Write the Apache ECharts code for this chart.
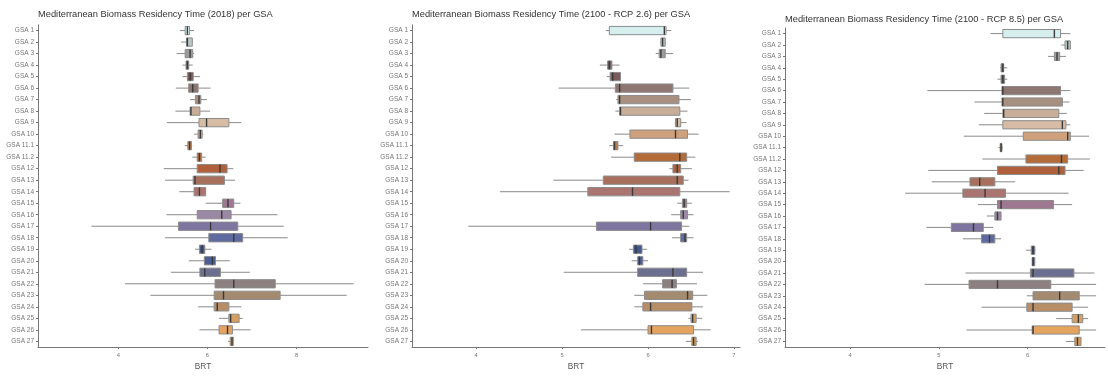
<!DOCTYPE html>
<html>
<head>
<meta charset="utf-8">
<script src="https://cdn.jsdelivr.net/npm/echarts@6/dist/echarts.min.js"></script>
<style>
  html, body { margin: 0; padding: 0; background: #fff; }
  #chart { width: 1108px; height: 376px; }
</style>
</head>
<body>
<div id="chart"></div>
<script>
  var gsa = ['GSA 1', 'GSA 2', 'GSA 3', 'GSA 4', 'GSA 5', 'GSA 6', 'GSA 7', 'GSA 8', 'GSA 9', 'GSA 10',
    'GSA 11.1', 'GSA 11.2', 'GSA 12', 'GSA 13', 'GSA 14', 'GSA 15', 'GSA 16', 'GSA 17', 'GSA 18',
    'GSA 19', 'GSA 20', 'GSA 21', 'GSA 22', 'GSA 23', 'GSA 24', 'GSA 25', 'GSA 26', 'GSA 27'];

  // [min, q1, median, q3, max] per GSA
  var brt2018 = [
    [5.38, 5.50, 5.55, 5.60, 5.70], [5.41, 5.53, 5.55, 5.66, 5.67], [5.31, 5.50, 5.61, 5.67, 5.70],
    [5.44, 5.52, 5.55, 5.58, 5.67], [5.44, 5.55, 5.61, 5.68, 5.83], [5.29, 5.58, 5.67, 5.79, 6.07],
    [5.61, 5.73, 5.81, 5.85, 5.99], [5.28, 5.61, 5.63, 5.83, 6.06], [5.09, 5.81, 5.98, 6.48, 6.76],
    [5.70, 5.79, 5.84, 5.88, 5.91], [5.49, 5.56, 5.60, 5.64, 5.66], [5.66, 5.77, 5.82, 5.87, 5.96],
    [5.02, 5.77, 6.28, 6.44, 6.58], [5.05, 5.68, 5.72, 6.38, 6.62], [5.37, 5.70, 5.82, 5.96, 5.97],
    [5.96, 6.34, 6.46, 6.59, 6.74], [5.08, 5.77, 6.32, 6.53, 7.57], [3.40, 5.35, 6.07, 6.68, 7.71],
    [5.05, 6.03, 6.59, 6.79, 7.80], [5.72, 5.82, 5.88, 5.94, 6.09], [5.58, 5.93, 6.11, 6.18, 6.50],
    [5.18, 5.83, 5.94, 6.29, 6.95], [4.15, 6.17, 6.59, 7.52, 9.28], [4.72, 6.15, 6.36, 7.63, 9.12],
    [5.79, 6.15, 6.22, 6.48, 6.76], [6.26, 6.48, 6.52, 6.71, 6.79], [5.82, 6.26, 6.45, 6.56, 6.97],
    [6.46, 6.51, 6.55, 6.58, 6.59]
  ];
  var brtRcp26 = [
    [5.51, 5.55, 6.19, 6.21, 6.27], [6.14, 6.15, 6.17, 6.20, 6.21], [6.09, 6.13, 6.15, 6.20, 6.29],
    [5.44, 5.53, 5.55, 5.58, 5.67], [5.52, 5.56, 5.59, 5.68, 5.68], [4.96, 5.62, 5.67, 6.29, 6.48],
    [5.63, 5.65, 5.67, 6.36, 6.50], [5.62, 5.67, 5.68, 6.37, 6.46], [6.31, 6.32, 6.34, 6.38, 6.45],
    [5.61, 5.79, 6.32, 6.46, 6.59], [5.55, 5.60, 5.61, 5.65, 5.71], [5.57, 5.84, 6.37, 6.45, 6.55],
    [6.25, 6.29, 6.34, 6.38, 6.51], [4.90, 5.48, 6.34, 6.41, 6.47], [4.28, 5.30, 5.82, 6.37, 6.95],
    [6.34, 6.40, 6.42, 6.45, 6.51], [6.27, 6.38, 6.41, 6.46, 6.53], [3.91, 5.40, 6.03, 6.39, 6.48],
    [6.28, 6.38, 6.43, 6.45, 6.53], [5.78, 5.83, 5.86, 5.93, 5.99], [5.81, 5.88, 5.90, 5.94, 6.00],
    [5.02, 5.88, 6.29, 6.45, 6.64], [5.94, 6.17, 6.28, 6.33, 6.57], [5.84, 5.96, 6.46, 6.52, 6.69],
    [5.84, 5.94, 6.03, 6.51, 6.64], [6.47, 6.50, 6.52, 6.56, 6.63], [5.22, 6.00, 6.04, 6.53, 6.73],
    [6.44, 6.51, 6.53, 6.56, 6.58]
  ];
  var brtRcp85 = [
    [5.58, 5.72, 6.30, 6.37, 6.48], [6.38, 6.42, 6.45, 6.48, 6.48], [6.23, 6.30, 6.33, 6.36, 6.43],
    [5.69, 5.70, 5.72, 5.73, 5.77], [5.66, 5.70, 5.72, 5.74, 5.77], [4.87, 5.71, 5.72, 6.37, 6.48],
    [5.40, 5.71, 5.72, 6.39, 6.47], [5.51, 5.72, 5.73, 6.35, 6.44], [5.45, 5.72, 6.39, 6.43, 6.48],
    [5.28, 5.95, 6.45, 6.48, 6.69], [5.67, 5.69, 5.70, 5.71, 5.72], [5.49, 5.98, 6.38, 6.45, 6.70],
    [4.88, 5.66, 6.35, 6.42, 6.63], [4.92, 5.35, 5.46, 5.63, 5.86], [4.62, 5.27, 5.52, 5.75, 6.46],
    [5.44, 5.66, 5.70, 6.29, 6.50], [5.54, 5.63, 5.66, 5.70, 5.70], [4.86, 5.14, 5.39, 5.50, 5.61],
    [5.27, 5.48, 5.57, 5.63, 5.70], [5.98, 6.04, 6.06, 6.08, 6.09], [6.05, 6.05, 6.06, 6.08, 6.08],
    [5.30, 6.03, 6.06, 6.52, 6.75], [4.84, 5.34, 5.66, 6.26, 6.77], [5.99, 6.06, 6.36, 6.58, 6.77],
    [5.48, 5.99, 6.06, 6.50, 6.68], [6.32, 6.50, 6.57, 6.62, 6.68], [5.31, 6.05, 6.06, 6.58, 6.77],
    [6.43, 6.53, 6.56, 6.60, 6.60]
  ];

  var ticks2018 = [4, 6, 8];
  var ticksRcp26 = [4, 5, 6, 7];
  var ticksRcp85 = [4, 5, 6];

  var colors = ['#d6efee', '#b9c6c6', '#9c9c9c', '#6e6163', '#7a5b59', '#8e7670', '#a89081', '#c8ae98',
    '#d6bca4', '#cfa07c', '#bb7a4a', '#b56b38', '#b0613b', '#a8705c', '#aa7470', '#9e7890', '#9a88a4',
    '#7e75a0', '#5f6ba0', '#41598c', '#4b5e95', '#6c7090', '#8c8080', '#a48a6e', '#b88e68', '#d8a060',
    '#e4a460', '#d89a58'];

  var panels = [
    { title: 'Mediterranean Biomass Residency Time (2018) per GSA', data: brt2018, ticks: ticks2018,
      min: 2.2, max: 9.6, grid: { left: 38, top: 24.8, width: 330, height: 328.7 }, titleTop: 10 },
    { title: 'Mediterranean Biomass Residency Time (2100 - RCP 2.6) per GSA', data: brtRcp26, ticks: ticksRcp26,
      min: 3.255, max: 7.07, grid: { left: 412, top: 24.8, width: 328, height: 328.7 }, titleTop: 10 },
    { title: 'Mediterranean Biomass Residency Time (2100 - RCP 8.5) per GSA', data: brtRcp85, ticks: ticksRcp85,
      min: 3.268, max: 6.87, grid: { left: 785, top: 27.9, width: 320, height: 324.6 }, titleTop: 15 }
  ];

  function renderBox(params, api) {
    var c = api.value(0);
    var yc = api.coord([api.value(3), c])[1];
    var bh = api.size([0, 1])[1] * 0.72;
    var xs = [1, 2, 3, 4, 5].map(function (i) { return api.coord([api.value(i), c])[0]; });
    var whisker = { stroke: '#8a8a8a', lineWidth: 1 };
    return {
      type: 'group',
      children: [
        { type: 'line', shape: { x1: xs[0], y1: yc, x2: xs[1], y2: yc }, style: whisker },
        { type: 'line', shape: { x1: xs[3], y1: yc, x2: xs[4], y2: yc }, style: whisker },
        { type: 'rect', shape: { x: xs[1], y: yc - bh / 2, width: xs[3] - xs[1], height: bh },
          style: { fill: colors[params.dataIndex], stroke: '#8c8c8c', lineWidth: 1 } },
        { type: 'line', shape: { x1: xs[2], y1: yc - bh / 2, x2: xs[2], y2: yc + bh / 2 },
          style: { stroke: '#3a3a3a', lineWidth: 1.4 } }
      ]
    };
  }

  var option = { animation: false, title: [], grid: [], xAxis: [], yAxis: [], series: [] };
  var font = 'Liberation Sans, Arial, sans-serif';

  panels.forEach(function (p, i) {
    option.title.push({
      text: p.title, left: p.grid.left, top: p.titleTop, padding: 0,
      textStyle: { fontSize: 9.3, fontWeight: 'normal', color: '#333', fontFamily: font }
    });
    option.grid.push(p.grid);
    option.xAxis.push({
      type: 'value', gridIndex: i, min: p.min, max: p.max,
      name: 'BRT', nameLocation: 'middle', nameGap: 14,
      nameTextStyle: { fontSize: 8.3, color: '#555', fontFamily: font },
      splitLine: { show: false },
      axisLine: { show: true, lineStyle: { color: '#777', width: 1 } },
      axisTick: { show: true, length: 2, customValues: p.ticks, lineStyle: { color: '#777' } },
      axisLabel: { customValues: p.ticks, fontSize: 5.8, color: '#777', margin: 5, fontFamily: font }
    });
    option.yAxis.push({
      type: 'category', gridIndex: i, data: gsa, inverse: true,
      axisLine: { show: true, lineStyle: { color: '#777', width: 1 } },
      axisTick: { show: true, length: 2, alignWithLabel: true, lineStyle: { color: '#777' } },
      axisLabel: { fontSize: 6.5, color: '#777', margin: 4, interval: 0, fontFamily: font },
      splitLine: { show: false }
    });
    option.series.push({
      type: 'custom', xAxisIndex: i, yAxisIndex: i,
      renderItem: renderBox,
      encode: { x: [1, 2, 3, 4, 5], y: 0 },
      data: p.data.map(function (d, k) { return [k].concat(d); })
    });
  });

  var chart = echarts.init(document.getElementById('chart'));
  chart.setOption(option);
</script>
</body>
</html>
